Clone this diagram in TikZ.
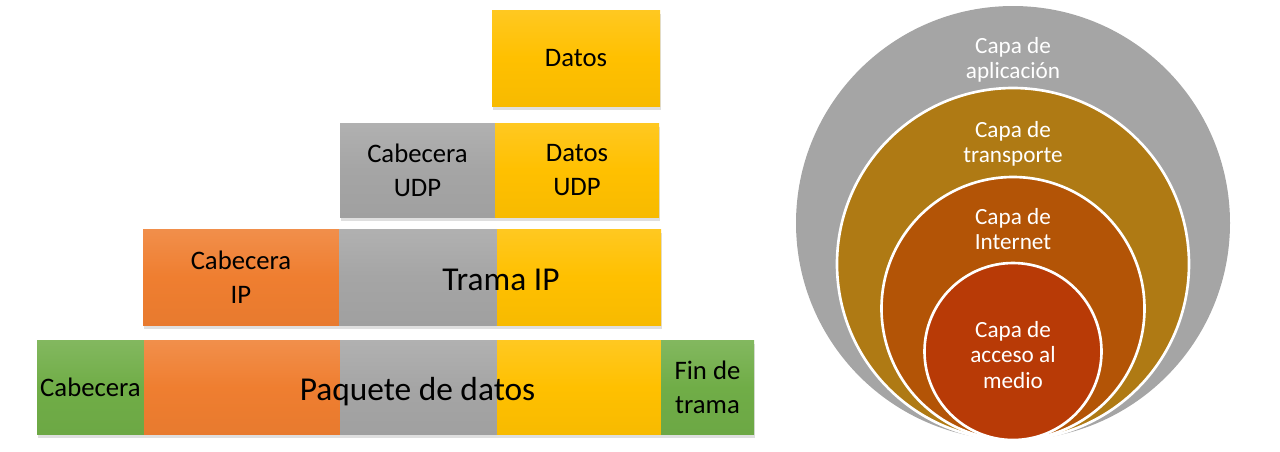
\documentclass[tikz,border=0pt]{standalone}
\usepackage{fontspec}
\setmainfont{Carlito}
\usetikzlibrary{positioning,shadows}

\definecolor{amarillo}{HTML}{FFC000}
\definecolor{gris}{HTML}{A5A5A5}
\definecolor{naranja}{HTML}{EF7E30}
\definecolor{verde}{HTML}{70AD47}
\definecolor{oro}{HTML}{AF7A14}
\definecolor{cobre}{HTML}{B35406}
\definecolor{rojizo}{HTML}{B83A06}

\begin{document}
\begin{tikzpicture}[
    caja/.style={rectangle, inner sep=0pt, outer sep=0pt, minimum height=1.88cm, align=center,
        font=\fontsize{15.2}{19.5}\selectfont,
        drop shadow={shadow xshift=0.6pt, shadow yshift=-2.2pt, opacity=0.25}},
    sombreado/.style={top color=#1!87!white, bottom color=#1!97!black, middle color=#1},
    grande/.style={anchor=base, font=\fontsize{19}{23}\selectfont},
    capa/.style={circle, draw=white, line width=1.5pt, inner sep=0pt, outer sep=0pt, anchor=south},
    texto/.style={align=center, text=white, font=\fontsize{13.2}{14.3}\selectfont}
]
\useasboundingbox (0,0) rectangle (25.6,-9.02);

% datos
\node[caja, sombreado=amarillo, minimum width=3.36cm, minimum height=1.92cm] (datos) at (11.52,-1.16) {Datos};

% UDP
\node[caja, sombreado=gris, minimum width=3.10cm] (cudp) at (8.35,-3.40) {Cabecera\\UDP};
\node[caja, sombreado=amarillo, minimum width=3.28cm, right=0pt of cudp] (dudp) {Datos\\UDP};

% IP
\node[caja, sombreado=naranja, minimum width=3.92cm, minimum height=1.92cm] (cip) at (4.82,-5.54) {Cabecera\\IP};
\node[caja, sombreado=gris, minimum width=3.16cm, minimum height=1.92cm, right=0pt of cip] (gip) {};
\node[caja, sombreado=amarillo, minimum width=3.28cm, minimum height=1.92cm, right=0pt of gip] (dip) {};
\node[grande] (tip) at (10.02,-5.8) {Trama IP};

% paquete
\node[caja, sombreado=verde, minimum width=2.14cm] (cab) at (1.81,-7.75) {Cabecera};
\node[caja, sombreado=naranja, minimum width=3.92cm, right=0pt of cab] (npaq) {};
\node[caja, sombreado=gris, minimum width=3.14cm, right=0pt of npaq] (gpaq) {};
\node[caja, sombreado=amarillo, minimum width=3.28cm, right=0pt of gpaq] (dpaq) {};
\node[caja, sombreado=verde, minimum width=1.86cm, right=0pt of dpaq] (fin) {Fin de\\trama};
\node[grande] (paq) at (8.35,-8.0) {Paquete de datos};

% capas
\node[capa, fill=gris, draw=none, minimum size=8.68cm] (apl) at (20.26,-8.8) {};
\node[capa, fill=oro, minimum size=7.04cm] (trans) at (apl.south) {};
\node[capa, fill=cobre, minimum size=5.26cm] (inet) at (apl.south) {};
\node[capa, fill=rojizo, minimum size=3.54cm] (acc) at (apl.south) {};

\node[texto] (tapl) at (20.26,-1.2) {Capa de\\aplicación};
\node[texto] (ttrans) at (20.26,-2.88) {Capa de\\transporte};
\node[texto] (tinet) at (20.26,-4.58) {Capa de\\Internet};
\node[texto] (tacc) at (20.26,-7.1) {Capa de\\acceso al\\medio};
\end{tikzpicture}
\end{document}
